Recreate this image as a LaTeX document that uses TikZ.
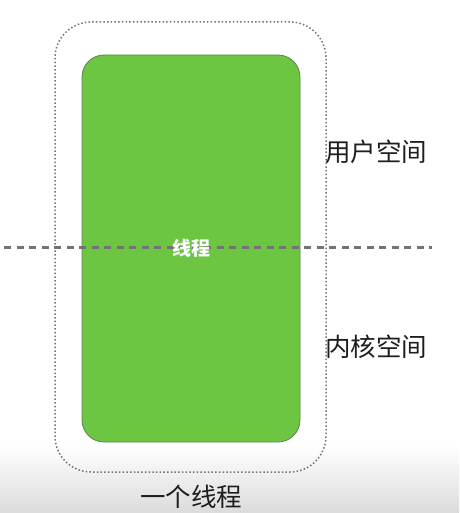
\documentclass[tikz,border=0pt]{standalone}
\usepackage{fontspec}
\newfontfamily\cjk{Noto Sans CJK SC}
\definecolor{threadgreen}{RGB}{108,198,66}
\definecolor{threadedge}{RGB}{95,130,80}
\definecolor{lineGray}{RGB}{115,115,115}
\definecolor{labelInk}{RGB}{30,30,30}
\begin{document}
\begin{tikzpicture}[x=1pt,y=-1pt,
  outerbox/.style={draw=lineGray, line width=1.5pt, dash pattern=on 1.5pt off 2.2pt, rounded corners=36pt},
  threadbox/.style={fill=threadgreen, draw=threadedge, line width=0.8pt, rounded corners=22pt},
  divider/.style={draw=lineGray, line width=3pt, dash pattern=on 7pt off 5.5pt},
  label/.style={font=\cjk\fontsize{25.5}{25.5}\selectfont, text=labelInk, inner sep=0pt}]
  \useasboundingbox (0,0) rectangle (459,513);
  % faint floor shading at the bottom
  \shade[top color=white, bottom color=black!14] (0,445) rectangle (459,513);
  % dotted outline of the whole thread
  \draw[outerbox] (55,22) rectangle (326,472);
  % the thread body
  \draw[threadbox] (82,55) rectangle (300,442);
  % user / kernel space divider
  \coordinate (dl) at (4,247);
  \coordinate (dr) at (432,247);
  \draw[divider] (dl) -- (dr);
  \node[font=\cjk\fontsize{19}{19}\selectfont\bfseries, text=white, inner sep=0pt] (thread) at (191,248) {线程};
  \node[label, anchor=west] (user) at (325,152) {用户空间};
  \node[label, anchor=west] (kernel) at (325,347) {内核空间};
  \node[label] (caption) at (191,497) {一个线程};
\end{tikzpicture}
\end{document}
